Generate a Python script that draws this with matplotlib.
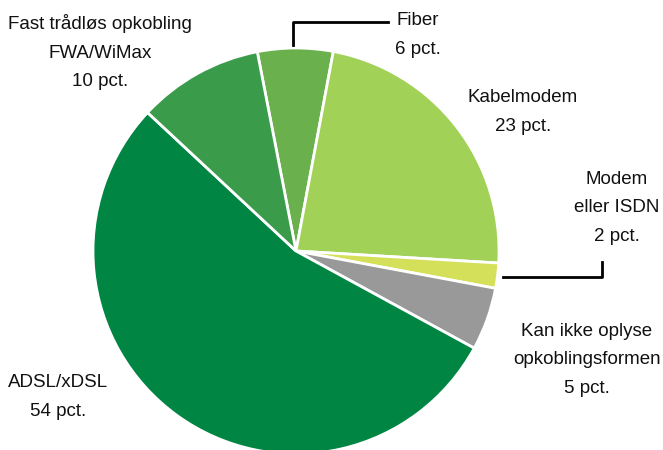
import matplotlib
matplotlib.use("Agg")
import matplotlib.pyplot as plt

# data
labels = ["Fiber", "Kabelmodem", "Modem\neller ISDN", "Kan ikke oplyse\nopkoblingsformen",
          "ADSL/xDSL", "Fast trådløs opkobling\nFWA/WiMax"]
values = [6, 23, 2, 5, 54, 10]
colors = ["#6ab04c", "#a2d158", "#d4e05a", "#999999", "#008542", "#3a9b4a"]

W, H = 663, 450
fig = plt.figure(figsize=(W / 100, H / 100), dpi=100)
ax = fig.add_axes([0, 0, 1, 1])

cx, cy, r = 296, H - 251, 203
ax.pie(values, colors=colors, startangle=101, counterclock=False,
       center=(cx, cy), radius=r, frame=True,
       wedgeprops=dict(edgecolor="white", linewidth=2))
ax.set_xlim(0, W)
ax.set_ylim(0, H)
ax.set_aspect("equal")
ax.axis("off")

# label positions in pixel coordinates (x, y from top)
label_pos = [(418, 35), (523, 112), (617, 208), (587, 360), (58, 397), (100, 52)]
for lab, v, (x, y) in zip(labels, values, label_pos):
    ax.text(x, H - y, f"{lab}\n{v} pct.", ha="center", va="center",
            fontsize=13.5, family="Liberation Sans", linespacing=1.85, color="#111111")

# leader lines
ax.plot([293, 293, 388], [H - 45, H - 22, H - 22], color="black", lw=2)
ax.plot([503, 602, 602], [H - 277, H - 277, H - 262], color="black", lw=2)

fig.savefig("out.png", dpi=100)
